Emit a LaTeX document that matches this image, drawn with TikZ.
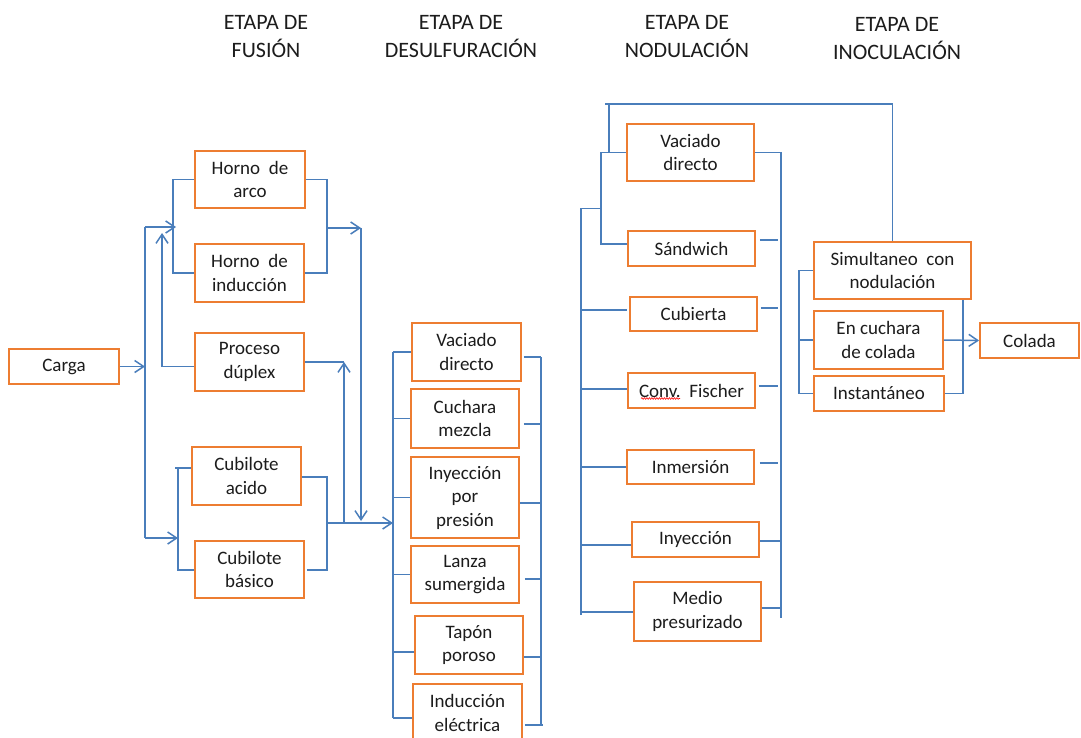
\documentclass[tikz,border=0pt]{standalone}
\usepackage{fontspec}
\setmainfont{Carlito}
\usetikzlibrary{arrows.meta,decorations.pathmorphing}
\definecolor{boxorange}{HTML}{ED7D31}
\definecolor{lineblue}{HTML}{4A7EBB}
\definecolor{txt}{HTML}{1C1C1C}
\begin{document}
\begin{tikzpicture}[x=1pt,y=-1pt,
  box/.style={draw=boxorange, line width=1.8pt, align=center, inner sep=0pt, text=txt, font=\fontsize{19}{23.5}\selectfont},
  line/.style={draw=lineblue, line width=1.5pt},
  arr/.style={line, -{Straight Barb[length=9pt,width=12pt]}},
  head/.style={align=center, inner sep=0pt, text=txt, font=\fontsize{22}{27.5}\selectfont}]
\fill[white] (0,0) rectangle (1081,738);
\useasboundingbox (0,0) rectangle (1081,738);

% headers
\node[head] (hfus) at (266,36.5) {ETAPA DE\\FUSIÓN};
\node[head] (hdes) at (461,36.5) {ETAPA DE\\DESULFURACIÓN};
\node[head] (hnod) at (687,36.5) {ETAPA DE\\NODULACIÓN};
\node[head] (hino) at (897,38.5) {ETAPA DE\\INOCULACIÓN};

% fusion
\node[box, minimum width=110pt, minimum height=35pt] (carga) at (64,366.5) {Carga};
\node[box, minimum width=110pt, minimum height=57pt] (arco) at (250,179.5) {Horno\ \ de\\arco};
\node[box, minimum width=109pt, minimum height=58pt] (induc) at (249.5,273) {Horno\ \ de\\inducción};
\node[box, minimum width=109pt, minimum height=58pt] (duplex) at (249.5,362) {Proceso\\dúplex};
\node[box, minimum width=109pt, minimum height=58pt] (cacido) at (246.5,476) {Cubilote\\acido};
\node[box, minimum width=109pt, minimum height=57pt] (cbasico) at (249.5,569.5) {Cubilote\\básico};

% desulfuracion
\node[box, minimum width=109pt, minimum height=58pt] (dvac) at (466.5,352) {Vaciado\\directo};
\node[box, minimum width=108pt, minimum height=59pt] (dcuch) at (465,418.5) {Cuchara\\mezcla};
\node[box, minimum width=108pt, minimum height=81pt] (diny) at (465,497.5) {Inyección\\por\\presión};
\node[box, minimum width=108pt, minimum height=57pt] (dlanza) at (465,574.5) {Lanza\\sumergida};
\node[box, minimum width=108pt, minimum height=58pt] (dtapon) at (469,645) {Tapón\\poroso};
\node[box, minimum width=109pt, minimum height=58pt] (dinduc) at (467.5,713) {Inducción\\eléctrica};

% nodulacion
\node[box, minimum width=127pt, minimum height=57pt] (nvac) at (690.5,152.5) {Vaciado\\directo};
\node[box, minimum width=127pt, minimum height=35pt] (nsand) at (691.5,248.5) {Sándwich};
\node[box, minimum width=127pt, minimum height=34pt] (ncub) at (693.5,314) {Cubierta};
\node[box, minimum width=127pt, minimum height=35pt] (nfis) at (691.5,390.5) {Conv.\ \ Fischer};
\node[box, minimum width=127pt, minimum height=34pt] (ninm) at (690.5,467) {Inmersión};
\node[box, minimum width=127pt, minimum height=35pt] (niny) at (695.5,539.5) {Inyección};
\node[box, minimum width=127pt, minimum height=59pt] (nmed) at (697.5,611.5) {Medio\\presurizado};

% inoculacion
\node[box, minimum width=157pt, minimum height=57pt] (isim) at (892.5,270.5) {Simultaneo\ \ con\\nodulación};
\node[box, minimum width=129pt, minimum height=58pt] (icuch) at (878.5,340) {En cuchara\\de colada};
\node[box, minimum width=130pt, minimum height=35pt] (iinst) at (879,393.5) {Instantáneo};
\node[box, minimum width=99pt, minimum height=35pt] (colada) at (1029.5,340.5) {Colada};

% spell-check mark
\draw[red, line width=0.6pt, decorate, decoration={snake, amplitude=0.8pt, segment length=2.5pt}]
  ([xshift=14pt,yshift=-8pt]nfis.west) -- ([xshift=53pt,yshift=-8pt]nfis.west);

% ---- fusion connectors
\coordinate (J1t) at (145,227);
\coordinate (J1b) at (145,538);
\coordinate (HL) at (173,180);
\coordinate (HR) at (327,180);
\coordinate (HM) at (327,228);
\coordinate (V1t) at (361,228);
\coordinate (V1b) at (361,521);
\coordinate (DU) at (162,233);
\coordinate (V2t) at (344,362);
\coordinate (V2b) at (344,523);
\coordinate (CLt) at (178,468);
\coordinate (CLb) at (178,570);
\coordinate (CRt) at (327,477);
\coordinate (CRb) at (327,570);
\coordinate (CRm) at (327,523);
\coordinate (DSL) at (393,523);

\draw[line] (J1t) -- (J1b);
\draw[arr] (carga.east) -- (carga.east -| J1t);
\draw[arr] (J1t) -- ([xshift=3pt]J1t -| HL);
\draw[arr] (J1b) -- (J1b -| CLt);
\draw[line] (arco.west) -| (HL |- induc.west) -- (induc.west);
\draw[line] (arco.east) -| (HR |- induc.east) -- (induc.east);
\draw[arr] (HM) -- (V1t);
\draw[arr] (V1t) -- (V1b);
\draw[arr] (duplex.west |- carga.east) -| (DU);
\draw[line] (duplex.east) -- (V2t);
\draw[arr] (V2b) -- (V2t);
\draw[line] ([xshift=-3pt]CLt) -- (cacido.west |- CLt);
\draw[line] (CLt) -- (CLb) -- (cbasico.west |- CLb);
\draw[line] (cacido.east |- CRt) -- (CRt) -- (CRb) -- ([xshift=2pt]cbasico.east |- CRb);
\draw[arr] (CRm) -- (DSL);

% ---- desulfuracion connectors
\coordinate (DLt) at (393,352);
\coordinate (DLb) at (393,718);
\coordinate (DLtap) at (393,652);
\draw[line] (DLt) -- (DLb);
\draw[line] (DLt) -- (dvac.west);
\draw[line] (DLt |- dcuch.west) -- (dcuch.west);
\draw[line] (DLt |- diny.west) -- (diny.west);
\draw[line] (DLt |- dlanza.west) -- (dlanza.west);
\draw[line] (DLtap) -- (dtapon.west |- DLtap);
\draw[line] (DLb) -- (dinduc.west |- DLb);

\coordinate (DRt) at (541,357);
\coordinate (DR2) at (541,424);
\coordinate (DR3) at (541,503);
\coordinate (DR4) at (541,579);
\coordinate (DR5) at (541,657);
\coordinate (DRb) at (541,725);
\draw[line] (DRt) -- (DRb);
\draw[line] ([xshift=2pt]dvac.east |- DRt) -- (DRt);
\draw[line] ([xshift=4pt]dcuch.east |- DR2) -- (DR2);
\draw[line] (diny.east |- DR3) -- (DR3);
\draw[line] ([xshift=5pt]dlanza.east |- DR4) -- (DR4);
\draw[line] (dtapon.east |- DR5) -- (DR5);
\draw[line] ([xshift=2pt]dinduc.east |- DRb) -- ([xshift=2pt]DRb);

% ---- nodulacion connectors
\coordinate (NTL) at (609,104);
\coordinate (NTB) at (609,153);
\coordinate (NSb) at (601,244);
\coordinate (NSm) at (601,208.5);
\coordinate (NLt) at (581,208.5);
\coordinate (NLb) at (581,615);
\draw[line] (isim.north) |- ([xshift=-4pt]NTL);
\draw[line] (NTL) -- (NTB);
\draw[line] (nvac.west) -| (NSb) -- (nsand.west |- NSb);
\draw[line] (NLt) -- (NSm);
\draw[line] (NLt) -- (NLb);
\coordinate (NL1) at (581,310);
\coordinate (NL2) at (581,389);
\coordinate (NL3) at (581,467);
\coordinate (NL4) at (581,545);
\coordinate (NL5) at (581,612);
\draw[line] (NL1) -- ([xshift=-2pt]ncub.west |- NL1);
\draw[line] (NL2) -- (nfis.west |- NL2);
\draw[line] (NL3) -- (ninm.west |- NL3);
\draw[line] (NL4) -- (niny.west |- NL4);
\draw[line] (NL5) -- (nmed.west |- NL5);

\coordinate (NRt) at (781,152.5);
\coordinate (NRb) at (781,618);
\coordinate (NR1) at (778,240);
\coordinate (NR2) at (778,308);
\coordinate (NR3) at (778,386);
\coordinate (NR4) at (778,463);
\coordinate (NR5) at (781,541);
\coordinate (NR6) at (781,608);
\draw[line] (nvac.east) -- (NRt) -- (NRb);
\draw[line] ([xshift=4pt]nsand.east |- NR1) -- (NR1);
\draw[line] ([xshift=3pt]ncub.east |- NR2) -- (NR2);
\draw[line] ([xshift=3pt]nfis.east |- NR3) -- (NR3);
\draw[line] ([xshift=5pt]ninm.east |- NR4) -- (NR4);
\draw[line] (niny.east |- NR5) -- (NR5);
\draw[line] (nmed.east |- NR6) -- (NR6);

% ---- inoculacion connectors
\coordinate (ILb) at (799,393.5);
\coordinate (IR) at (963,393.5);
\draw[line] (isim.west) -| (ILb) -- (iinst.west);
\draw[line] (ILb |- icuch.west) -- (icuch.west);
\draw[line] (isim.south -| IR) -- (IR) -- (iinst.east);
\draw[arr] (icuch.east) -- (colada.west);
\end{tikzpicture}
\end{document}
